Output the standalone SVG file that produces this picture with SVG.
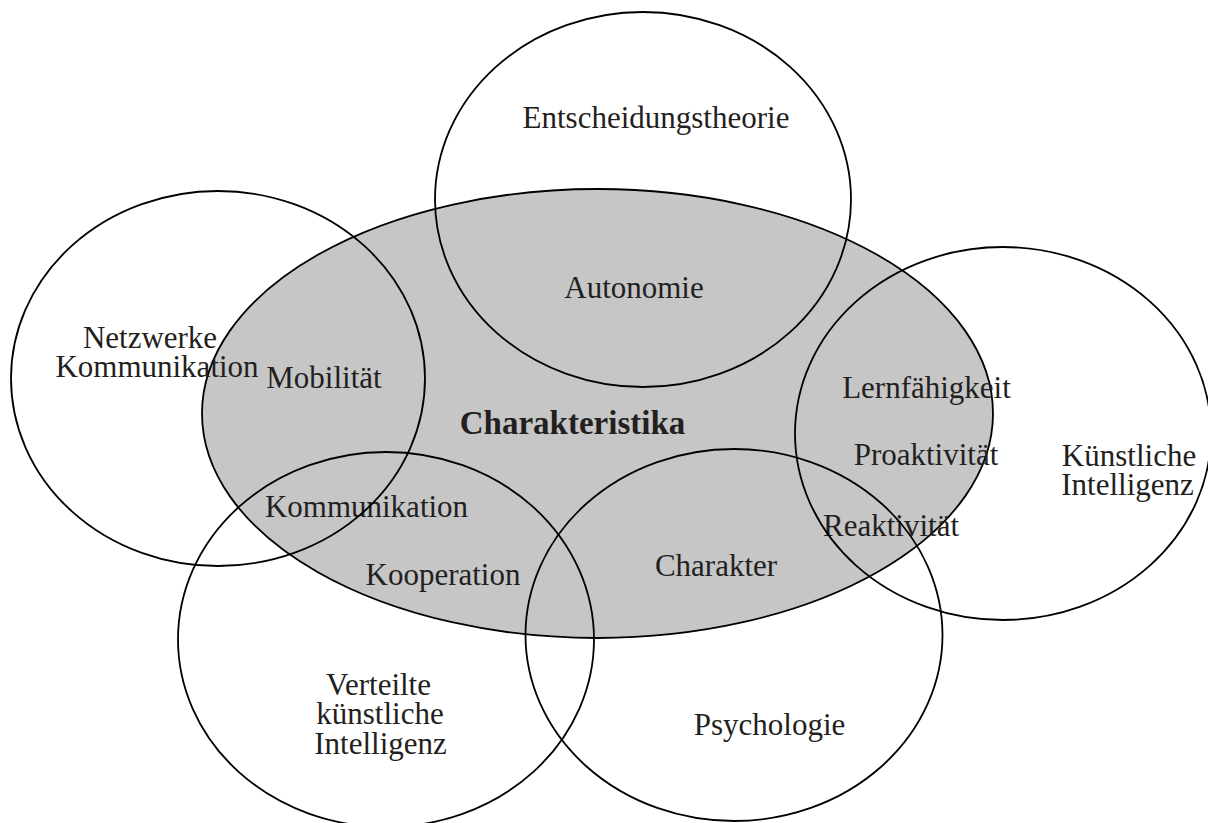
<svg xmlns="http://www.w3.org/2000/svg" width="1208" height="823" viewBox="0 0 1208 823">
  <style>
    .area { fill: none; stroke: #000; stroke-width: 1.8; }
    .core { fill: #c6c6c6; stroke: #000; stroke-width: 1.8; }
    .lbl { font-family: "Liberation Serif", "Times New Roman", serif; font-size: 31px; fill: #231f20; text-anchor: middle; }
    .title { font-weight: bold; font-size: 33px; }
  </style>

  <!-- central set of agent characteristics -->
  <g id="charakteristika">
    <ellipse class="core" cx="597.5" cy="413.5" rx="395.5" ry="224.5"/>
    <text class="lbl title" x="572.5" y="434">Charakteristika</text>
    <text class="lbl" x="634" y="298">Autonomie</text>
    <text class="lbl" x="324" y="388">Mobilität</text>
    <text class="lbl" x="926.5" y="398">Lernfähigkeit</text>
    <text class="lbl" x="926" y="465">Proaktivität</text>
    <text class="lbl" x="891" y="536">Reaktivität</text>
    <text class="lbl" x="716" y="576">Charakter</text>
    <text class="lbl" x="366.5" y="517">Kommunikation</text>
    <text class="lbl" x="443" y="585">Kooperation</text>
  </g>

  <!-- surrounding disciplines -->
  <g id="entscheidungstheorie">
    <ellipse class="area" cx="643" cy="199.5" rx="208" ry="187.5"/>
    <text class="lbl" x="656" y="128">Entscheidungstheorie</text>
  </g>

  <g id="netzwerke">
    <ellipse class="area" cx="218" cy="378.5" rx="207" ry="187.5"/>
    <text class="lbl" x="150" y="348">Netzwerke</text>
    <text class="lbl" x="157" y="377">Kommunikation</text>
  </g>

  <g id="kuenstliche-intelligenz">
    <ellipse class="area" cx="1003" cy="433.5" rx="208" ry="186.5"/>
    <text class="lbl" x="1129" y="466">Künstliche</text>
    <text class="lbl" x="1127.5" y="495">Intelligenz</text>
  </g>

  <g id="verteilte-ki">
    <ellipse class="area" cx="386" cy="639.5" rx="208" ry="187.5"/>
    <text class="lbl" x="378.5" y="695">Verteilte</text>
    <text class="lbl" x="380" y="724">künstliche</text>
    <text class="lbl" x="380.5" y="754">Intelligenz</text>
  </g>

  <g id="psychologie">
    <ellipse class="area" cx="734" cy="635" rx="208.5" ry="186"/>
    <text class="lbl" x="769.5" y="735">Psychologie</text>
  </g>
</svg>
